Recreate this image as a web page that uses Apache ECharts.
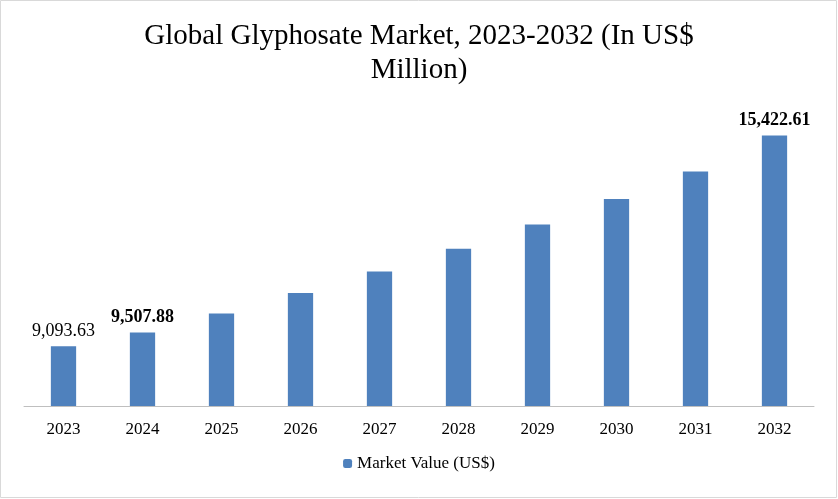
<!DOCTYPE html>
<html><head><meta charset="utf-8">
<script src="https://cdn.jsdelivr.net/npm/echarts@6/dist/echarts.min.js"></script>
<style>html,body{margin:0;padding:0;background:#fff}#main{width:838px;height:499px}</style>
</head><body><div id="main"></div>
<script>
var years = ['2023','2024','2025','2026','2027','2028','2029','2030','2031','2032'];
var values = [9093.63, 9507.88, 10080, 10690, 11340, 12020, 12750, 13520, 14340, 15422.61];
var shownLabels = {0: 'normal', 1: 'bold', 9: 'bold'};

var font = '"Liberation Serif", "DejaVu Serif", serif';
var chart = echarts.init(document.getElementById('main'));

var barData = values.map(function (v, i) {
    var item = { value: v };
    if (shownLabels[i]) {
        item.label = { show: true, fontWeight: shownLabels[i] };
    }
    return item;
});

chart.setOption({
    title: {
        text: 'Global Glyphosate Market, 2023-2032 (In US$\nMillion)',
        left: 'center',
        top: 14,
        textStyle: { fontFamily: font, fontSize: 29, fontWeight: 'normal', color: '#000', lineHeight: 34 }
    },
    graphic: [{
        type: 'rect', shape: { x: 0.5, y: 0.5, width: 836, height: 497 },
        style: { fill: 'none', stroke: '#d9d9d9', lineWidth: 1 }, silent: true
    }],
    legend: {
        bottom: 22,
        itemWidth: 9, itemHeight: 9,
        textStyle: { fontFamily: font, fontSize: 17, color: '#000' },
        data: ['Market Value (US$)']
    },
    grid: { left: 24, right: 24, top: 83, bottom: 93 },
    xAxis: {
        type: 'category',
        data: years,
        axisTick: { show: false },
        axisLine: { lineStyle: { color: '#bfbfbf' } },
        axisLabel: { fontFamily: font, fontSize: 17, color: '#000', margin: 15 }
    },
    yAxis: { type: 'value', min: 7300, max: 17000, show: false, splitLine: { show: false } },
    series: [{
        name: 'Market Value (US$)',
        type: 'bar',
        barWidth: '32%',
        itemStyle: { color: '#4f81bd' },
        label: {
            show: false, position: 'top', distance: 6,
            fontFamily: font, fontSize: 18, color: '#000',
            formatter: function (p) {
                return p.value.toLocaleString('en-US', { minimumFractionDigits: 2, maximumFractionDigits: 2 });
            }
        },
        data: barData
    }]
});
</script></body></html>
